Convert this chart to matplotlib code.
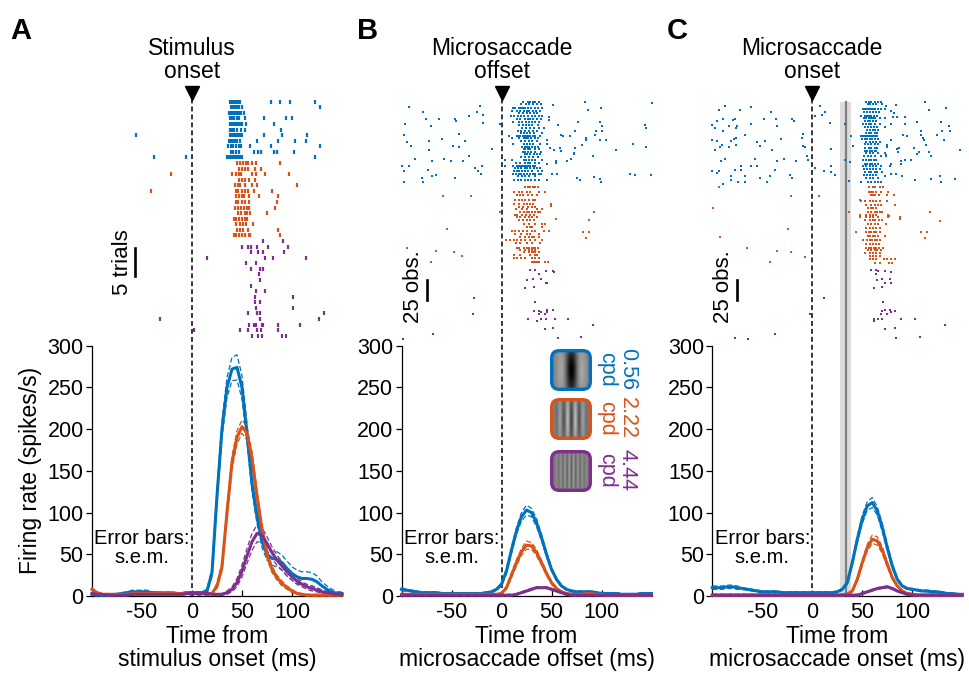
import numpy as np
import matplotlib
matplotlib.use("Agg")
import matplotlib.pyplot as plt
from matplotlib.patches import FancyBboxPatch, Rectangle

plt.rcParams['font.family'] = ['Liberation Sans', 'DejaVu Sans']
plt.rcParams['axes.unicode_minus'] = False

# Colors
BLUE = '#0072BD'
ORANGE = '#D95319'
PURPLE = '#7E2F8E'
COLORS = [BLUE, ORANGE, PURPLE]

W, H = 969, 676

# ---------------- PSTH data (spikes/s), time from -100 to 150 ms every 5 ms
time_ms = list(range(-100, 151, 5))

a_blue = [2, 1, 1, 1, 1, 2, 3, 4, 5, 5, 5, 5, 4, 4, 3, 3, 3, 3, 3, 4,
          4, 4, 4, 6, 28, 120, 200, 250, 272, 274, 250, 195, 135, 95, 65, 50,
          45, 44, 40, 33, 27, 23, 21, 21, 20, 17, 12, 8, 5, 3, 3]
a_orange = [8, 4, 2, 2, 2, 2, 2, 2, 3, 3, 3, 3, 3, 4, 4, 4, 4, 3, 3, 3,
            3, 3, 3, 3, 3, 12, 35, 100, 160, 190, 203, 195, 165, 120, 80, 50,
            32, 22, 15, 10, 6, 3, 2, 1, 1, 1, 1, 1, 1, 1, 1]
a_purple = [3, 2, 2, 1, 1, 1, 1, 1, 2, 2, 2, 2, 2, 2, 2, 2, 2, 2, 2, 3,
            3, 3, 3, 3, 2, 2, 2, 4, 8, 16, 30, 48, 65, 75, 73, 63,
            52, 43, 36, 29, 23, 18, 14, 11, 9, 7, 5, 4, 3, 2, 2]
a_blue_sem = [1, 1, 1, 1, 1, 1, 1, 1, 2, 2, 2, 2, 1, 1, 1, 1, 1, 1, 1, 1,
              1, 1, 1, 2, 5, 8, 10, 12, 14, 15, 14, 12, 10, 8, 7, 7,
              8, 9, 9, 9, 8, 8, 8, 8, 8, 7, 5, 4, 3, 2, 2]
a_orange_sem = [2, 1, 1, 1, 1, 1, 1, 1, 1, 1, 1, 1, 1, 1, 1, 1, 1, 1, 1, 1,
                1, 1, 1, 1, 1, 3, 5, 7, 8, 8, 8, 8, 8, 7, 6, 5,
                4, 3, 3, 2, 2, 1, 1, 1, 1, 1, 1, 1, 1, 1, 1]
a_purple_sem = [1, 1, 1, 1, 1, 1, 1, 1, 1, 1, 1, 1, 1, 1, 1, 1, 1, 1, 1, 1,
                2, 2, 2, 2, 1, 1, 1, 2, 3, 5, 7, 9, 10, 10, 9, 8,
                7, 6, 5, 5, 4, 4, 3, 3, 3, 2, 2, 2, 1, 1, 1]

b_blue = [8, 7, 6, 5, 4, 4, 4, 4, 3, 3, 3, 3, 3, 3, 3, 3, 3, 4, 5, 8,
          14, 30, 55, 78, 95, 103, 100, 88, 70, 50, 32, 20, 12, 8, 6, 5,
          5, 5, 5, 4, 3, 3, 3, 3, 2, 2, 2, 2, 3, 3, 3]
b_orange = [2, 2, 2, 2, 2, 2, 2, 2, 2, 2, 2, 2, 2, 2, 2, 2, 2, 2, 2, 2,
            3, 10, 25, 40, 53, 61, 60, 52, 40, 27, 16, 9, 5, 3, 2, 2,
            2, 3, 3, 2, 2, 1, 1, 1, 1, 1, 1, 1, 1, 1, 1]
b_purple = [1, 1, 1, 1, 1, 1, 1, 1, 1, 1, 1, 1, 1, 1, 1, 1, 1, 1, 1, 1,
            1, 1, 1, 2, 4, 6, 8, 10, 10, 10, 8, 6, 4, 2, 1, 1,
            1, 1, 1, 1, 1, 1, 1, 1, 1, 1, 1, 1, 1, 1, 1]
b_blue_sem = [2, 1, 1, 1, 1, 1, 1, 1, 1, 1, 1, 1, 1, 1, 1, 1, 1, 1, 1, 1,
              2, 3, 4, 4, 5, 6, 5, 5, 4, 3, 2, 2, 1, 1, 1, 1,
              1, 1, 1, 1, 1, 1, 1, 1, 1, 1, 1, 1, 1, 1, 1]
b_orange_sem = [1, 1, 1, 1, 1, 1, 1, 1, 1, 1, 1, 1, 1, 1, 1, 1, 1, 1, 1, 1,
                1, 2, 3, 4, 4, 5, 4, 4, 3, 2, 2, 1, 1, 1, 1, 1,
                1, 1, 1, 1, 1, 1, 1, 1, 1, 1, 1, 1, 1, 1, 1]
b_purple_sem = [1] * 51

c_blue = [10, 10, 10, 11, 11, 10, 9, 8, 7, 6, 5, 5, 5, 5, 4, 4, 4, 4, 4, 4,
          4, 4, 4, 4, 4, 5, 8, 16, 40, 68, 92, 108, 112, 102, 82, 58,
          36, 20, 12, 9, 8, 7, 6, 6, 5, 5, 4, 3, 3, 2, 2]
c_orange = [1, 1, 1, 1, 1, 1, 1, 1, 1, 1, 1, 1, 1, 1, 1, 1, 1, 1, 1, 1,
            1, 1, 1, 1, 1, 1, 1, 2, 6, 20, 40, 58, 68, 66, 55, 38,
            22, 12, 6, 3, 2, 1, 1, 1, 1, 1, 1, 1, 1, 1, 1]
c_purple = [1, 1, 1, 1, 1, 1, 1, 1, 1, 1, 1, 1, 1, 1, 1, 1, 1, 1, 1, 1,
            1, 1, 1, 1, 1, 1, 1, 1, 1, 1, 3, 5, 7, 9, 10, 11,
            9, 6, 4, 2, 1, 1, 1, 1, 1, 1, 1, 1, 1, 1, 1]
c_blue_sem = [2, 2, 2, 2, 2, 2, 1, 1, 1, 1, 1, 1, 1, 1, 1, 1, 1, 1, 1, 1,
              1, 1, 1, 1, 1, 1, 1, 2, 3, 4, 5, 5, 6, 5, 5, 4,
              3, 2, 1, 1, 1, 1, 1, 1, 1, 1, 1, 1, 1, 1, 1]
c_orange_sem = [1, 1, 1, 1, 1, 1, 1, 1, 1, 1, 1, 1, 1, 1, 1, 1, 1, 1, 1, 1,
                1, 1, 1, 1, 1, 1, 1, 1, 1, 2, 3, 4, 5, 5, 4, 3,
                2, 1, 1, 1, 1, 1, 1, 1, 1, 1, 1, 1, 1, 1, 1]
c_purple_sem = [1] * 51

# ---------------- Raster data
# panel A: spike times (ms) per trial, top to bottom
a_raster_blue = [
    [38, 40, 42, 44, 46, 48, 79, 88, 98, 123],
    [39, 41, 43, 45, 47, 50, 128],
    [37, 39, 41, 43, 45, 47, 49, 52],
    [38, 40, 42, 45, 47, 53, 72, 94, 100],
    [38, 40, 42, 44, 46, 48, 50, 54, 82],
    [38, 40, 42, 45, 49, 53, 89],
    [-56, 38, 40, 42, 44, 46, 48, 50, 72, 90, 115],
    [37, 39, 41, 43, 45, 48, 65, 86, 103, 114],
    [36, 39, 41, 44, 47, 49, 58, 79, 128],
    [39, 41, 44, 47, 62, 66, 69, 82, 85, 102],
    [-38, -6, 35, 37, 39, 41, 43, 45, 47, 49, 50, 123],
]
a_raster_orange = [
    [45, 48, 51, 54, 56, 60, 64, 88],
    [47, 50, 53, 56, 63, 69],
    [-21, 40, 44, 47, 49, 60, 64, 73, 97],
    [47, 50, 53, 57, 63],
    [43, 46, 48, 53, 60, 65, 105],
    [-41, 44, 46, 50, 53, 56, 62, 80],
    [44, 47, 50, 52, 57, 67, 86],
    [44, 46, 50, 53, 57, 85],
    [43, 46, 49, 52, 55, 57, 83],
    [46, 49, 53, 55, 58, 75],
    [42, 44, 47, 50, 53, 55],
    [44, 48, 51, 54, 61],
    [45, 48, 51, 56, 86],
    [42, 44, 47, 50, 53, 57, 58, 88],
]
a_raster_purple = [
    [71, 91],
    [50, 56, 59, 65, 76, 96],
    [59, 66, 71, 92],
    [15, 73, 81, 114],
    [54, 64],
    [59, 68, 71],
    [67],
    [68],
    [59],
    [64, 73],
    [63, 101],
    [63, 68],
    [64, 101],
    [56, 65, 68, 132],
    [-32, 68, 127],
    [57, 62, 64, 70, 71, 86, 108],
    [2, 48, 56, 65, 69, 86],
    [60, 66, 70, 90, 94],
]

# panels B and C: (observation, [times]) for dense rows, (time, observation) for sparse dots
b_blue_rows = [
    (0, [21, 26, 28, 31, 33, 37]), (3, [19, 24, 27, 31, 35, 39]),
    (8, [11, 13, 17, 19, 21, 23, 26, 29, 33, 36, 40]), (11, [10, 15, 18, 22, 25, 27, 31, 34, 38]),
    (14, [17, 21, 25, 28, 32, 35]), (18, [9, 12, 16, 19, 22, 26, 30, 33, 37, 40]),
    (21, [15, 18, 23, 26, 28, 31, 35, 39]), (25, [11, 17, 20, 24, 27, 30, 33, 37]),
    (29, [17, 21, 24, 27, 30, 36]), (32, [20, 24, 28, 32, 37]),
    (36, [16, 19, 23, 27, 31, 35]), (39, [19, 22, 25, 28, 32, 40]),
    (42, [7, 15, 17, 18, 21, 23, 25, 27, 28, 31, 33, 38]), (45, [10, 17, 22, 24, 26, 29, 33, 36]),
    (49, [19, 23, 27, 30, 35]), (52, [11, 22, 25, 28, 31, 38]),
    (56, [20, 23, 25, 27, 30, 33, 36]), (59, [22, 23, 26, 28, 33, 37]),
    (62, [21, 23, 26, 29, 33, 39]), (65, [23, 25, 28, 32, 35, 38]),
    (69, [19, 23, 27, 31, 36]), (72, [3, 10, 22, 24, 27, 30, 33, 40]),
    (76, [14, 18, 23, 26, 28, 33, 37]), (80, [3, 11, 15, 17, 18, 20, 22, 23, 25, 27, 28, 31, 33]),
    (83, [13, 16, 19, 23, 25, 28, 32, 35, 38]), (86, [12, 15, 17, 20, 23, 26, 30, 36, 40]),
    (90, [11, 14, 17, 19, 22, 25, 28, 31, 33, 37, 39]), (93, [16, 20, 23, 27, 33]),
    (97, [12, 16, 19, 23, 26, 29, 33, 37]),
]
b_blue_dots = [
    (-93, 6), (-79, 12), (-22, 5), (-25, 12), (-19, 16), (-33, 17), (-76, 21), (-63, 21),
    (-47, 21), (-46, 24), (-71, 30), (-97, 27), (-19, 26), (-2, 27), (-98, 41), (-43, 40),
    (-60, 46), (-73, 49), (-95, 50), (-37, 49), (-91, 55), (-49, 55), (-43, 56), (-10, 59),
    (-73, 60), (-33, 67), (-87, 71), (-70, 74), (-58, 71), (-51, 74), (-39, 74), (-100, 80),
    (-93, 80), (-74, 85), (-27, 82), (-20, 80), (-24, 86), (-98, 86), (-66, 91), (-70, 92),
    (-21, 90), (-80, 95), (-47, 95), (-79, 100), (-98, 100),
    (51, 4), (83, 0), (86, 10), (99, 7), (150, 1), (47, 19), (47, 23), (56, 29), (76, 25),
    (98, 25), (100, 30), (42, 32), (73, 36), (94, 36), (100, 36), (59, 41), (61, 43), (68, 42),
    (84, 45), (84, 48), (93, 41), (98, 48), (104, 48), (143, 29), (144, 32), (131, 52),
    (144, 56), (45, 48), (45, 52), (80, 54), (58, 57), (52, 60), (59, 61), (73, 57), (114, 60),
    (48, 57), (72, 64), (72, 65), (91, 67), (69, 71), (65, 74), (54, 74), (54, 76), (45, 77),
    (50, 90), (55, 90), (75, 95), (78, 97), (92, 94), (98, 96), (99, 100), (128, 90),
    (133, 91), (149, 91), (45, 97),
]
b_orange_rows = [
    (106, [23, 26, 28, 31, 33, 36]), (112, [12, 17, 20, 25, 28, 37, 43]),
    (116, [15, 18, 21, 26, 30, 35]), (122, [13, 17, 20, 23, 27, 31, 33]),
    (127, [12, 17, 22, 25, 28, 31, 49]), (131, [17, 21, 26, 30, 33]),
    (134, [14, 20, 25, 35, 40]), (138, [18, 22, 25, 27, 30, 33, 36, 38]),
    (141, [13, 15, 20, 24, 28, 32]), (144, [15, 18, 23, 27, 30, 35]),
    (148, [17, 21, 25, 28, 32]), (152, [22, 27, 33, 40, 43]),
    (156, [25, 28, 30, 40]), (161, [10, 13, 17, 21, 25, 30, 33, 42, 47]),
    (165, [13, 19, 25, 28, 37]), (169, [18, 23, 27, 30, 32, 37]),
    (173, [4, 8, 12, 15, 19, 23, 28, 33, 40]), (176, [14, 18, 25, 30, 38]),
    (182, [15, 17, 22, 25, 27, 30, 32, 33, 36]), (185, [18, 23, 27, 30, 33]),
    (188, [22, 27, 30, 32, 33, 37]), (191, [12, 18, 28, 33, 35]),
    (195, [12, 15, 19, 23, 30, 33, 37]), (200, [30, 32, 33, 35, 37, 43, 46]),
]
b_orange_dots = [
    (-59, 117), (-31, 117), (-2, 138), (49, 130), (92, 137), (54, 146), (-55, 159), (-95, 182),
    (-66, 186), (-71, 200), (-48, 188), (-40, 193), (87, 148), (81, 162), (87, 162), (84, 170),
]
b_purple_dots = [
    (28, 210), (33, 210), (44, 211), (51, 211), (52, 213), (37, 215), (31, 221), (39, 221),
    (25, 223), (44, 226), (45, 226), (23, 232), (32, 231), (-28, 245), (33, 250), (32, 261),
    (37, 261), (45, 260), (45, 263), (51, 260), (39, 263), (37, 265), (43, 265), (-29, 265),
    (26, 271), (39, 271), (44, 271), (53, 271), (66, 271), (35, 274), (91, 279), (43, 284),
    (51, 283), (-69, 290), (-99, 296), (56, 295), (79, 294),
]

c_blue_rows = [
    (0, [54, 57, 59, 63, 66, 69]), (3, [56, 58, 61, 64, 70]),
    (9, [51, 53, 54, 56, 58, 59, 61, 63, 66, 69, 73]), (12, [52, 55, 58, 61, 64, 67]),
    (17, [49, 53, 55, 57, 59, 62, 65]), (20, [52, 54, 57, 59, 61, 63, 68]),
    (24, [53, 56, 58, 61, 64]), (27, [51, 54, 57, 59, 63, 68]),
    (31, [53, 56, 59, 62, 65, 73]), (35, [55, 58, 61, 63, 66]),
    (39, [54, 57, 59, 63, 65]), (43, [49, 51, 53, 54, 56, 58, 59, 61, 63, 65]),
    (46, [50, 53, 55, 58, 60, 63, 66]), (50, [54, 58, 61, 64, 68]),
    (53, [53, 56, 59, 63, 66]), (57, [53, 57, 59, 63, 65]),
    (61, [53, 55, 58, 60, 63, 64]), (64, [54, 58, 61, 66, 73]),
    (68, [52, 56, 59, 63, 69]), (73, [51, 54, 57, 59, 62, 64]),
    (77, [53, 55, 58, 60, 63, 66]), (80, [51, 54, 58, 61, 64, 69]),
    (84, [52, 55, 58, 61, 64, 68]), (88, [53, 57, 59, 63, 65]),
    (91, [52, 55, 58, 61, 64]), (95, [54, 58, 61, 66]),
    (100, [49, 56, 59, 63, 66, 69]),
]
c_blue_dots = [
    (-93, 10), (-87, 5), (-72, 10), (-61, 6), (-41, 12), (-89, 21), (-95, 24), (-79, 23),
    (-77, 21), (-48, 21), (-36, 21), (-20, 21), (-18, 24), (-100, 29), (-97, 32), (-83, 30),
    (-75, 30), (-76, 32), (-61, 27), (-35, 30), (-89, 36), (-67, 41), (-100, 47), (-95, 49),
    (-81, 49), (-78, 46), (-76, 45), (-55, 50), (-47, 49), (-31, 46), (-90, 54), (-92, 56),
    (-83, 56), (-76, 54), (-52, 55), (-40, 60), (-97, 60), (-87, 71), (-91, 74), (-57, 71),
    (-35, 74), (-28, 71), (-16, 74), (-71, 80), (-77, 85), (-71, 85), (-61, 80), (-55, 80),
    (-37, 85), (-100, 86), (-93, 86), (-95, 89), (-81, 92), (-67, 93), (-42, 92), (-52, 95),
    (-22, 91), (-20, 95), (-81, 97), (-74, 100), (-67, 100), (-45, 100), (-89, 102),
    (8, 5), (13, 12), (3, 17), (10, 16), (18, 26), (-9, 40), (-10, 45), (-7, 56), (-9, 55),
    (-5, 67), (-4, 73), (19, 59), (3, 82), (12, 86), (19, 80), (19, 88), (23, 91), (33, 27),
    (39, 43), (33, 73), (38, 75), (37, 99), (41, 55),
    (84, 4), (113, 0), (117, 10), (134, 7), (79, 11), (82, 14), (81, 19), (85, 19), (93, 19),
    (73, 20), (74, 5), (79, 27), (93, 28), (105, 25), (129, 25), (137, 30), (130, 36),
    (138, 36), (109, 36), (109, 41), (91, 41), (95, 43), (111, 45), (112, 48), (125, 41),
    (132, 48), (79, 48), (75, 54), (75, 56), (87, 57), (85, 59), (102, 57), (114, 54),
    (107, 63), (105, 65), (117, 63), (148, 60), (86, 63), (74, 66), (74, 68), (93, 72),
    (89, 74), (99, 73), (119, 67), (79, 77), (89, 77), (78, 80), (79, 90), (84, 90), (90, 92),
    (103, 97), (119, 96), (128, 93), (129, 100), (143, 96), (73, 93), (70, 87),
]
c_orange_rows = [
    (106, [57, 61, 63, 68, 71]), (112, [57, 59, 61, 64, 69, 76]),
    (116, [59, 61, 63, 67, 75, 82]), (124, [49, 53, 58, 61, 64, 68, 75]),
    (129, [54, 59, 63, 66, 69, 83]), (133, [56, 59, 61, 64]),
    (138, [56, 59, 63, 65, 68, 70]), (141, [48, 54, 58, 61, 64, 76]),
    (144, [48, 54, 58, 61, 66, 76, 88]), (148, [53, 58, 61, 63, 67, 70]),
    (153, [56, 59, 63, 66, 74]), (158, [54, 58, 61, 64, 68]),
    (162, [44, 54, 57, 59, 62, 64, 68]), (167, [56, 58, 61, 63, 66, 73]),
    (173, [51, 55, 58, 60, 63, 65, 68]), (177, [54, 58, 61, 64, 67]),
    (182, [54, 57, 59, 62, 64, 67, 71]), (185, [56, 59, 63, 65, 69]),
    (189, [53, 58, 61, 64, 68]), (193, [58, 61, 64, 68]),
    (196, [58, 61, 64, 72, 75, 79, 83]), (201, [63, 68, 77, 80]),
]
c_orange_dots = [
    (-93, 106), (-21, 117), (7, 117), (-99, 132), (37, 138), (118, 137), (48, 122),
    (-92, 169), (-65, 182), (-35, 186), (-42, 200), (-24, 159), (-21, 188), (-7, 194),
    (77, 143), (88, 146), (128, 149), (109, 162), (115, 162), (113, 170),
]
c_purple_dots = [
    (59, 210), (64, 210), (66, 211), (73, 211), (79, 213), (64, 215), (70, 221), (78, 221),
    (65, 223), (73, 226), (79, 226), (62, 232), (70, 231), (12, 245), (71, 250), (70, 261),
    (73, 260), (78, 260), (79, 262), (83, 261), (75, 265), (69, 265), (-2, 265), (62, 271),
    (62, 274), (66, 271), (70, 271), (89, 271), (103, 271), (133, 279), (73, 284), (83, 283),
    (-77, 295), (-64, 296), (-37, 290), (84, 295), (108, 294),
]

titles = ['Stimulus\nonset', 'Microsaccade\noffset', 'Microsaccade\nonset']
xlabels = ['Time from\nstimulus onset (ms)', 'Time from\nmicrosaccade offset (ms)',
           'Time from\nmicrosaccade onset (ms)']
letters = ['A', 'B', 'C']
legend_labels = ['0.56\ncpd', '2.22\ncpd', '4.44\ncpd']

psth = [
    [(a_blue, a_blue_sem), (a_orange, a_orange_sem), (a_purple, a_purple_sem)],
    [(b_blue, b_blue_sem), (b_orange, b_orange_sem), (b_purple, b_purple_sem)],
    [(c_blue, c_blue_sem), (c_orange, c_orange_sem), (c_purple, c_purple_sem)],
]


def px_box(x0, y0, x1, y1):
    return [x0 / W, 1 - y1 / H, (x1 - x0) / W, (y1 - y0) / H]


def rows_to_xy(rows):
    xs, ys = [], []
    for y, times in rows:
        xs += times
        ys += [y] * len(times)
    return xs, ys


def dots_to_xy(dots):
    return [d[0] for d in dots], [d[1] for d in dots]


fig = plt.figure(figsize=(W / 100, H / 100), dpi=100)

LEFTS = [92, 401.5, 712.3]
LETTER_X = [10, 357, 667]
PSTH_TOP, PSTH_BOT, RAST_TOP = 345.7, 596, 80

for p in range(3):
    left = LEFTS[p]
    ax = fig.add_axes(px_box(left, PSTH_TOP, left + 250, PSTH_BOT))
    ax_r = fig.add_axes(px_box(left, RAST_TOP, left + 250, PSTH_TOP))

    # psth curves with s.e.m. as dashed lines
    for (mean, sem), c in zip(psth[p], COLORS):
        m = np.array(mean, float)
        s = np.array(sem, float)
        ax.plot(time_ms, m + s, color=c, lw=0.9, ls=(0, (4, 2)), zorder=3, clip_on=False)
        ax.plot(time_ms, np.maximum(m - s, 0), color=c, lw=0.9, ls=(0, (4, 2)), zorder=3,
                clip_on=False)
        ax.plot(time_ms, m, color=c, lw=2.2, zorder=4, clip_on=False)

    ax.set_xlim(-100, 150)
    ax.set_ylim(0, 300)
    ax.set_xticks([-50, 0, 50, 100])
    ax.set_yticks([0, 50, 100, 150, 200, 250, 300])
    for sp in ['top', 'right']:
        ax.spines[sp].set_visible(False)
    for sp in ['left', 'bottom']:
        ax.spines[sp].set_linewidth(0.9)
    ax.tick_params(axis='x', direction='in', length=4, width=0.9, labelsize=15.5, pad=4)
    ax.tick_params(axis='y', direction='out', length=4, width=0.9, labelsize=15.5, pad=2)
    ax.set_xlabel(xlabels[p], fontsize=16.5, labelpad=2, linespacing=1.0)
    if p == 0:
        ax.set_ylabel('Firing rate (spikes/s)', fontsize=16.5, labelpad=4)
    ax.text(-50, 58, 'Error bars:\ns.e.m.', ha='center', va='center', fontsize=14.5,
            linespacing=1.0)

    # event line through raster and psth
    xt = ax.get_xaxis_transform()
    ax.plot([0, 0], [0, (PSTH_BOT - 99) / (PSTH_BOT - PSTH_TOP)], color='k', lw=1.1,
            ls=(0, (3.2, 2)), transform=xt, clip_on=False, zorder=2)

    if p == 2:
        top = (PSTH_BOT - 101.7) / (PSTH_BOT - PSTH_TOP)
        ax.add_patch(Rectangle((28, 0), 11, top, transform=xt, facecolor='#dcdcdc',
                               edgecolor='none', zorder=0, clip_on=False))
        ax.plot([34, 34], [0, top], color='#7f7f7f', lw=1.6, transform=xt,
                clip_on=False, zorder=1)

    # raster
    ax_r.set_xlim(-100, 150)
    ax_r.axis('off')
    rt = ax_r.get_xaxis_transform()

    def frac(py):
        return (PSTH_TOP - py) / (PSTH_TOP - RAST_TOP)

    if p == 0:
        ax_r.set_ylim((PSTH_TOP - 101.7) / 5.57, -(101.7 - RAST_TOP) / 5.57)
        row = 0
        for trials, c in zip([a_raster_blue, a_raster_orange, a_raster_purple], COLORS):
            for times in trials:
                ax_r.plot(times, [row] * len(times), ls='none', marker='|', ms=2.8,
                          mew=1.6, color=c, clip_on=False)
                row += 1
        ax_r.plot([-57, -57], [26.3, 31.3], color='k', lw=1.9)
        ax_r.text(-70, 28.8, '5 trials', rotation=90, ha='center', va='center', fontsize=16)
    else:
        ax_r.set_ylim((PSTH_TOP - 102) / 0.8, -(102 - RAST_TOP) / 0.8)
        if p == 1:
            sets = [(b_blue_rows, b_blue_dots), (b_orange_rows, b_orange_dots),
                    ([], b_purple_dots)]
        else:
            sets = [(c_blue_rows, c_blue_dots), (c_orange_rows, c_orange_dots),
                    ([], c_purple_dots)]
        for (rows, dots), c in zip(sets, COLORS):
            x1, y1 = rows_to_xy(rows)
            x2, y2 = dots_to_xy(dots)
            ax_r.plot(x1 + x2, y1 + y2, ls='none', marker='s', ms=1.8, mew=0, color=c,
                      clip_on=False)
        xb = -74.5 if p == 1 else -75
        ax_r.plot([xb, xb], [222.5, 247.5], color='k', lw=1.9)
        ax_r.text(xb - 13.5, 231, '25 obs.', rotation=90, ha='center', va='center',
                  fontsize=16)

    ax_r.plot(0, frac(93), marker='v', ms=10, color='k', transform=rt, clip_on=False)
    ax_r.text(0, frac(78), titles[p], transform=rt, ha='center', va='baseline',
              fontsize=16.5, linespacing=1.0)

    fig.text(LETTER_X[p] / W, 1 - 39 / H, letters[p], fontsize=21,
             fontweight='bold', ha='left', va='baseline')

# legend icons (gratings) in panel B
icon_tops = [349, 398, 450]
freqs = [1.6, 5.5, 10.0]
contrasts = [1.0, 0.45, 0.25]
gx = np.linspace(-1, 1, 120)
GX, GY = np.meshgrid(gx, gx)
for c, top, f, k, lab in zip(COLORS, icon_tops, freqs, contrasts, legend_labels):
    ax_i = fig.add_axes(px_box(550, top, 592, top + 42))
    sx = 0.35 if f < 2 else 0.45
    env = np.exp(-GX ** 2 / (2 * sx ** 2)) * np.exp(-GY ** 2 / (2 * 0.9 ** 2))
    img = 0.5 - 0.5 * k * np.cos(2 * np.pi * f * GX / 2) * env
    im = ax_i.imshow(img, cmap='gray', vmin=0, vmax=1, extent=(0, 1, 0, 1), aspect='auto')
    ax_i.set_xlim(0, 1)
    ax_i.set_ylim(0, 1)
    ax_i.axis('off')
    box = FancyBboxPatch((0.04, 0.04), 0.92, 0.92, boxstyle='round,pad=0,rounding_size=0.18',
                         transform=ax_i.transAxes, facecolor='none', edgecolor=c, lw=2.4,
                         clip_on=False)
    ax_i.add_patch(box)
    im.set_clip_path(box)
    fig.text(617 / W, 1 - (top + 20) / H, lab, color=c, rotation=-90, ha='center',
             va='center', fontsize=15.5, linespacing=1.0, multialignment='center')

fig.savefig('out.png', dpi=100)
